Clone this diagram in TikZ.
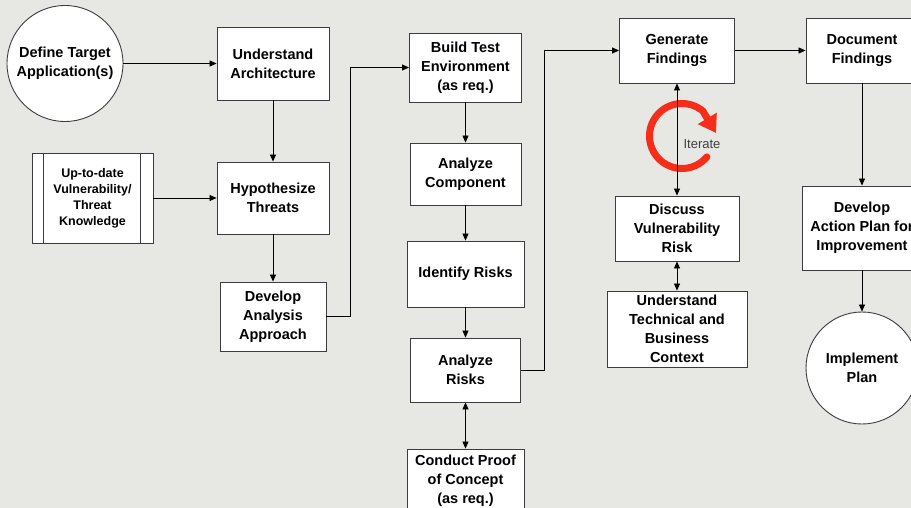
\documentclass[tikz,border=0pt]{standalone}
\usepackage{fontspec}
\setmainfont{Liberation Sans}
\usetikzlibrary{arrows.meta}
\definecolor{bgc}{RGB}{231,231,228}
\definecolor{edgec}{RGB}{60,60,60}
\definecolor{iterc}{RGB}{245,45,25}

\begin{document}
\begin{tikzpicture}[
	x=1pt, y=-1pt,
	box/.style={draw=edgec, fill=white, line width=0.9pt, align=center, inner sep=1pt, font=\bfseries\fontsize{14.5}{19}\selectfont},
	blob/.style={circle, draw=edgec, fill=white, line width=0.9pt, align=center, inner sep=0pt, font=\bfseries\fontsize{14.5}{19}\selectfont},
	arr/.style={-{Triangle[length=7pt,width=6pt]}, line width=0.8pt},
	darr/.style={{Triangle[length=7pt,width=6pt]}-{Triangle[length=7pt,width=6pt]}, line width=0.8pt}
	]
	\clip (0,0) rectangle (911,508);
	\fill[bgc] (0,0) rectangle (911,508);
	% --- column 1 ---
	\node[blob, minimum size=116pt] (tgt) at (65,63.5) {Define Target\\Application(s)};
	\node[box, minimum width=121pt, minimum height=90pt, font=\bfseries\fontsize{12.5}{16}\selectfont] (know) at (92.5,198) {Up-to-date\\Vulnerability/\\Threat\\Knowledge};
	\draw[edgec, line width=0.9pt] ([xshift=12pt]know.north west) -- ([xshift=12pt]know.south west);
	\draw[edgec, line width=0.9pt] ([xshift=-13pt]know.north east) -- ([xshift=-13pt]know.south east);
	% --- column 2 ---
	\node[box, minimum width=112pt, minimum height=73pt] (arch) at (273,63.5) {Understand\\Architecture};
	\node[box, minimum width=112pt, minimum height=72pt] (hyp) at (273,198) {Hypothesize\\Threats};
	\node[box, minimum width=106pt, minimum height=69pt] (appr) at (273,316.5) {Develop\\Analysis\\Approach};
	% --- column 3 ---
	\node[box, minimum width=112pt, minimum height=69pt] (env) at (465.5,67.5) {Build Test\\Environment\\(as req.)};
	\node[box, minimum width=111pt, minimum height=62pt] (comp) at (465.5,174) {Analyze\\Component};
	\node[box, minimum width=117pt, minimum height=66pt] (ident) at (465.5,274) {Identify Risks};
	\node[box, minimum width=110pt, minimum height=64pt] (anr) at (465.5,370) {Analyze\\Risks};
	\node[box, minimum width=117pt, minimum height=63pt] (poc) at (465.5,480.5) {Conduct Proof\\of Concept\\(as req.)};
	% --- column 4 ---
	\coordinate (itip) at (716,133);
	\draw[iterc, line width=7pt, line cap=round, -{Triangle[length=17pt,width=21pt]}] (682,136) ++(40:32.5) arc[start angle=40, end angle=310, radius=32.5] -- (itip);
	\node[font=\fontsize{13}{15}\selectfont, text=black!75] (itr) at (702,144) {Iterate};
	\node[box, minimum width=115pt, minimum height=65pt] (gen) at (677,50.5) {Generate\\Findings};
	\node[box, minimum width=124pt, minimum height=65pt] (disc) at (677,228.5) {Discuss\\Vulnerability\\Risk};
	\node[box, minimum width=140pt, minimum height=76pt] (ctx) at (677,329) {Understand\\Technical and\\Business\\Context};
	% --- column 5 ---
	\node[box, minimum width=112pt, minimum height=65pt] (doc) at (862,50.5) {Document\\Findings};
	\node[box, minimum width=120pt, minimum height=84pt] (plan) at (862,228) {Develop\\Action Plan for\\Improvement};
	\node[blob, minimum size=112pt] (impl) at (862,368) {Implement\\Plan};
	% --- connectors ---
	\draw[arr] (tgt) -- (arch);
	\draw[arr] (arch) -- (hyp);
	\draw[arr] (know) -- (hyp);
	\draw[arr] (hyp) -- (appr);
	\draw[arr] (appr.east) -- ++(24,0) |- (env.west);
	\draw[arr] (env) -- (comp);
	\draw[arr] (comp) -- (ident);
	\draw[arr] (ident) -- (anr);
	\draw[darr] (anr) -- (poc);
	\draw[arr] (anr.east) -- ++(23,0) |- (gen.west);
	\draw[darr] (gen) -- (disc);
	\draw[darr] (disc) -- (ctx);
	\draw[arr] (gen) -- (doc);
	\draw[arr] (doc) -- (plan);
	\draw[arr] (plan) -- (impl);
\end{tikzpicture}
\end{document}
